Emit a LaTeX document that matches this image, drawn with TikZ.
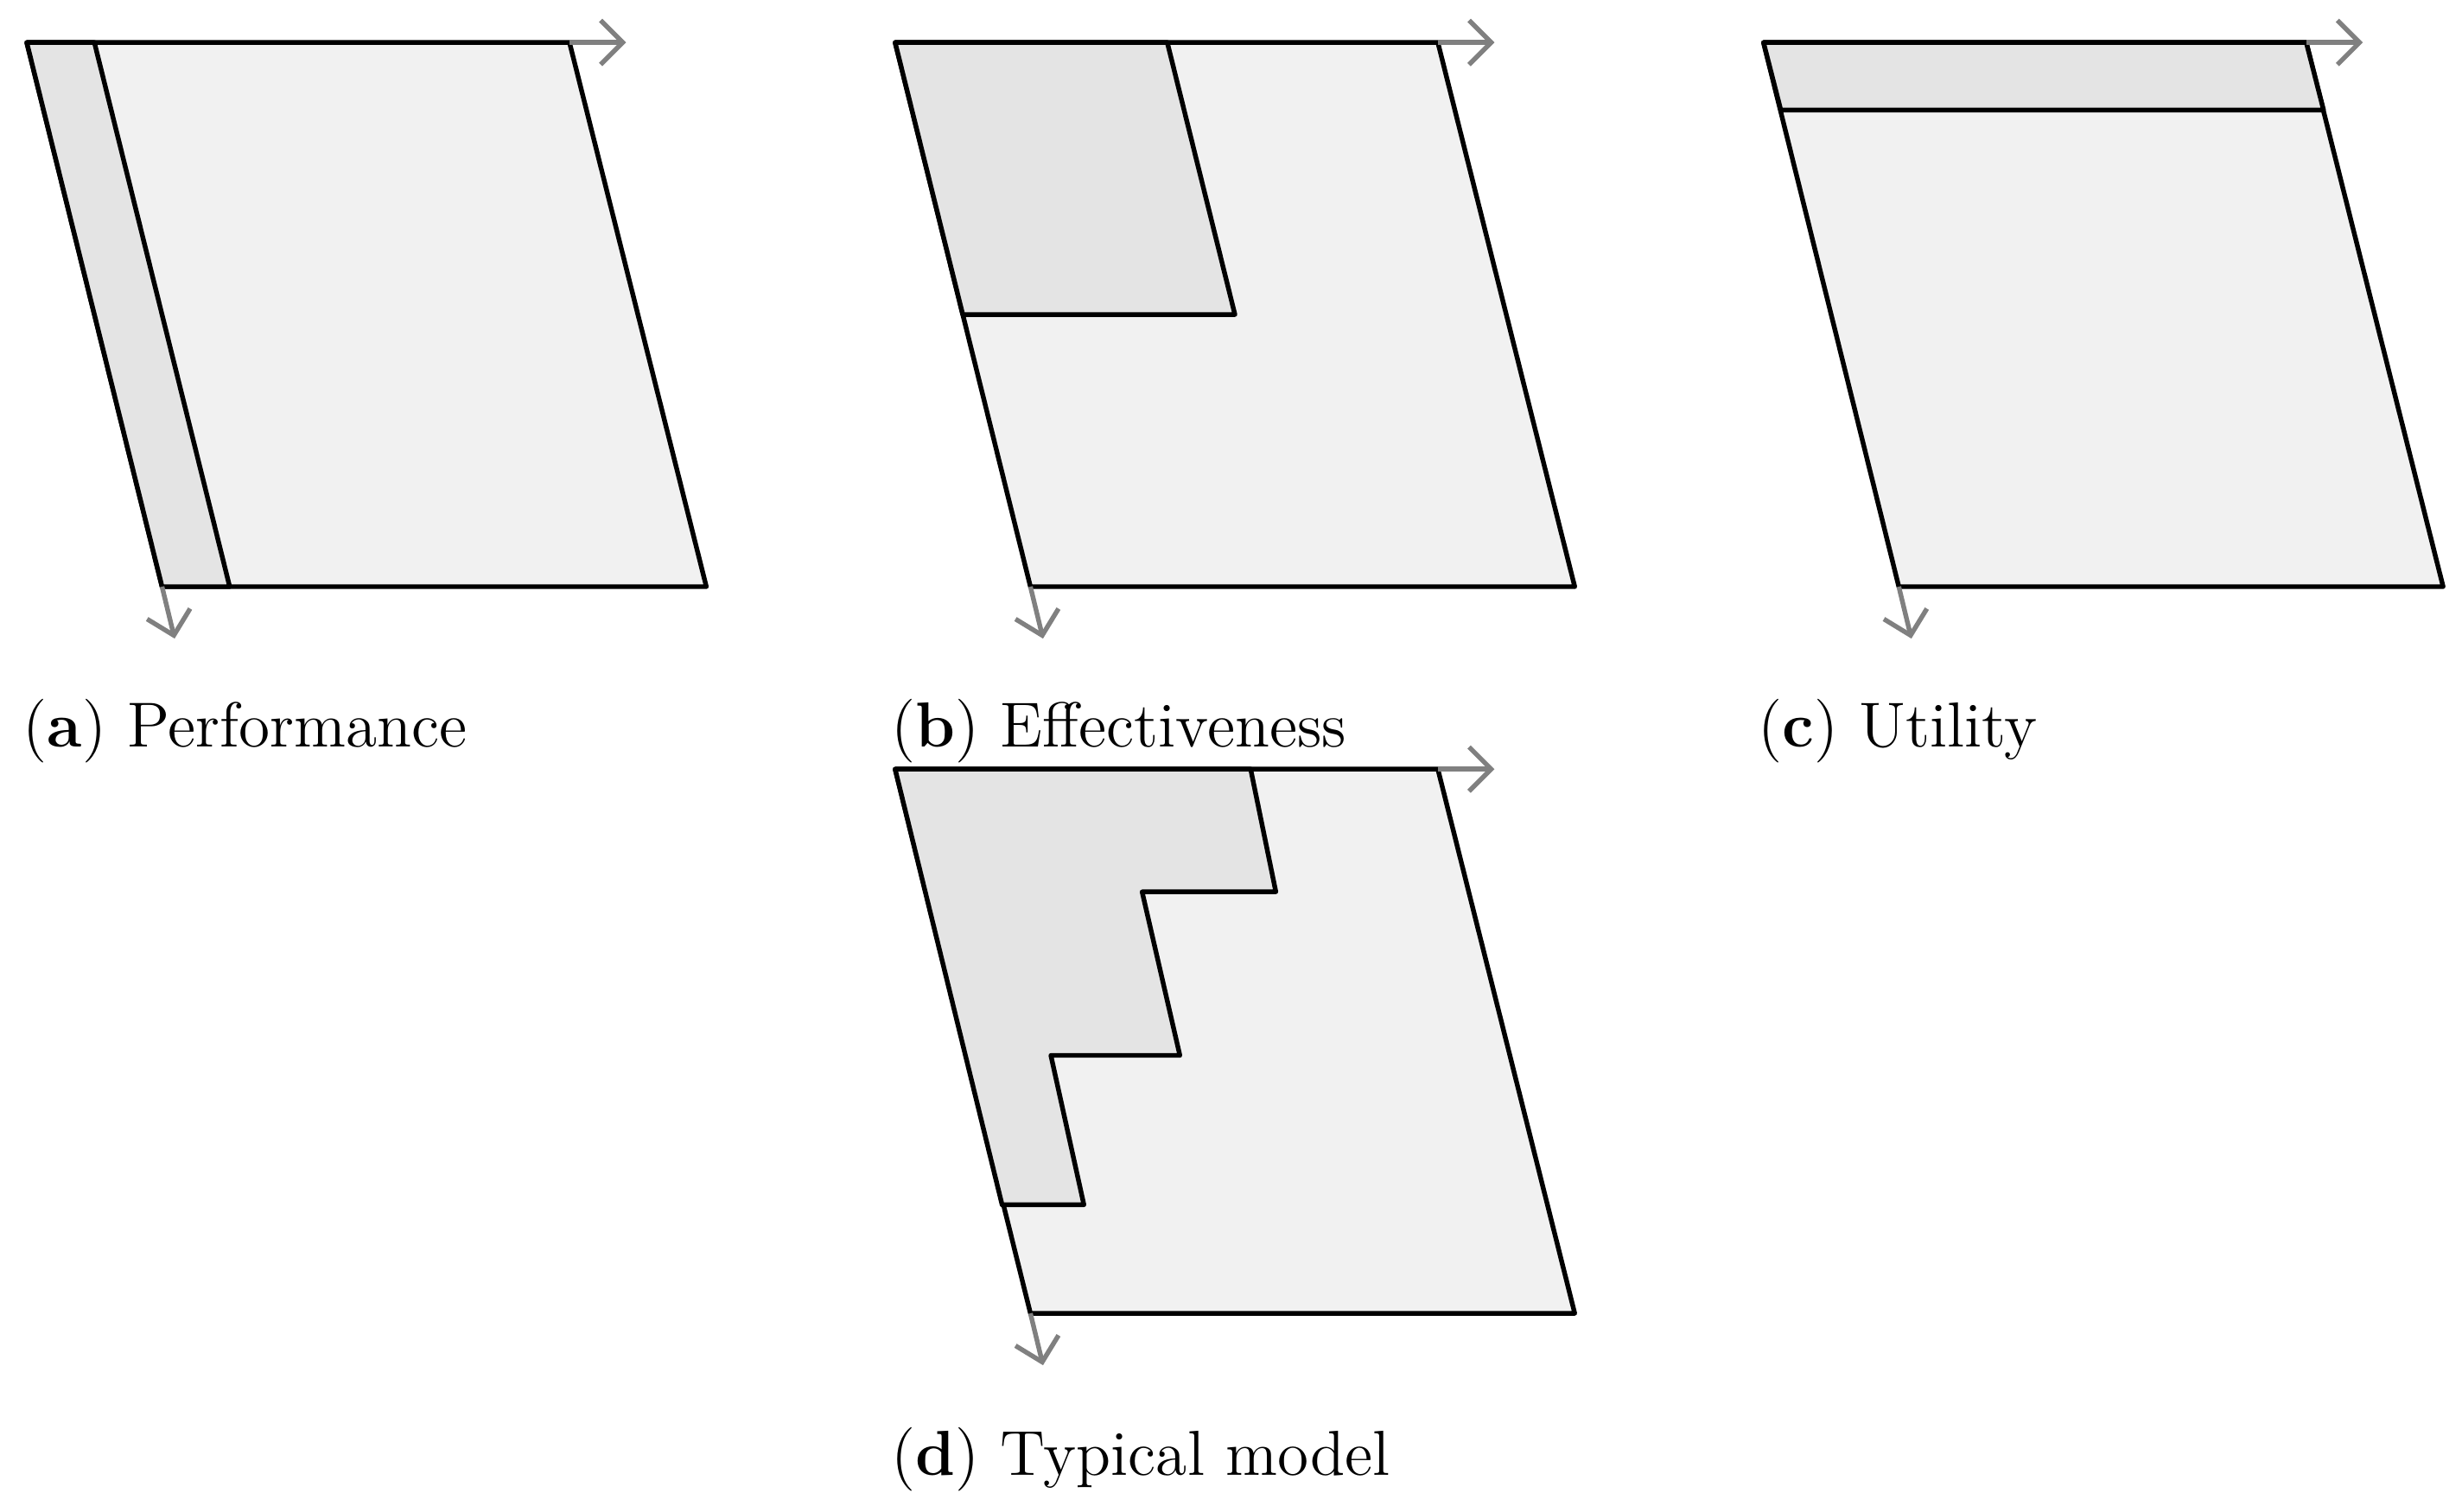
\documentclass[tikz,border=0pt]{standalone}
\usetikzlibrary{arrows.meta}
\definecolor{lightf}{HTML}{F1F1F1}
\definecolor{darkf}{HTML}{E4E4E4}
\begin{document}
\begin{tikzpicture}[x=0.01cm,y=-0.01cm,
  panel/.style={draw=black,fill=lightf,line width=0.85pt,line join=round},
  region/.style={draw=black,fill=darkf,line width=0.85pt,line join=round},
  axis/.style={draw=gray,line width=0.85pt,-{Straight Barb[length=4pt,width=8pt]}},
  captxt/.style={anchor=west,font=\fontsize{11.5}{13}\selectfont,inner sep=0pt}]
\useasboundingbox (0,0) rectangle (1565,961);
% (a)
\draw[panel] (17,27) -- (362,27) -- (449,373) -- (103,373) -- cycle;
\draw[region] (17,27) -- (60,27) -- (146,373) -- (103,373) -- cycle;
\coordinate (a1) at (362,27); \coordinate (a2) at (398,27);
\coordinate (a3) at (103,373); \coordinate (a4) at (111,406);
\draw[axis] (a1) -- (a2); \draw[axis] (a3) -- (a4);
\node[captxt] (ca) at (14,465) {(\textbf{a}) Performance};
% (b)
\draw[panel] (569,27) -- (914,27) -- (1001,373) -- (655,373) -- cycle;
\draw[region] (569,27) -- (742,27) -- (785,200) -- (612,200) -- cycle;
\coordinate (b1) at (914,27); \coordinate (b2) at (950,27);
\coordinate (b3) at (655,373); \coordinate (b4) at (663,406);
\draw[axis] (b1) -- (b2); \draw[axis] (b3) -- (b4);
\node[captxt] (cb) at (566,465) {(\textbf{b}) Effectiveness};
% (c)
\draw[panel] (1121,27) -- (1466,27) -- (1553,373) -- (1207,373) -- cycle;
\draw[region] (1121,27) -- (1466,27) -- (1477,70) -- (1132,70) -- cycle;
\coordinate (c1) at (1466,27); \coordinate (c2) at (1502,27);
\coordinate (c3) at (1207,373); \coordinate (c4) at (1215,406);
\draw[axis] (c1) -- (c2); \draw[axis] (c3) -- (c4);
\node[captxt] (cc) at (1117,465) {(\textbf{c}) Utility};
% (d)
\draw[panel] (569,489) -- (914,489) -- (1001,835) -- (655,835) -- cycle;
\draw[region] (569,489) -- (795,489) -- (811,567) -- (726,567) -- (750,671) -- (668,671) -- (689,766) -- (637,766) -- cycle;
\coordinate (d1) at (914,489); \coordinate (d2) at (950,489);
\coordinate (d3) at (655,835); \coordinate (d4) at (663,868);
\draw[axis] (d1) -- (d2); \draw[axis] (d3) -- (d4);
\node[captxt] (cd) at (566,928) {(\textbf{d}) Typical model};
\end{tikzpicture}
\end{document}
